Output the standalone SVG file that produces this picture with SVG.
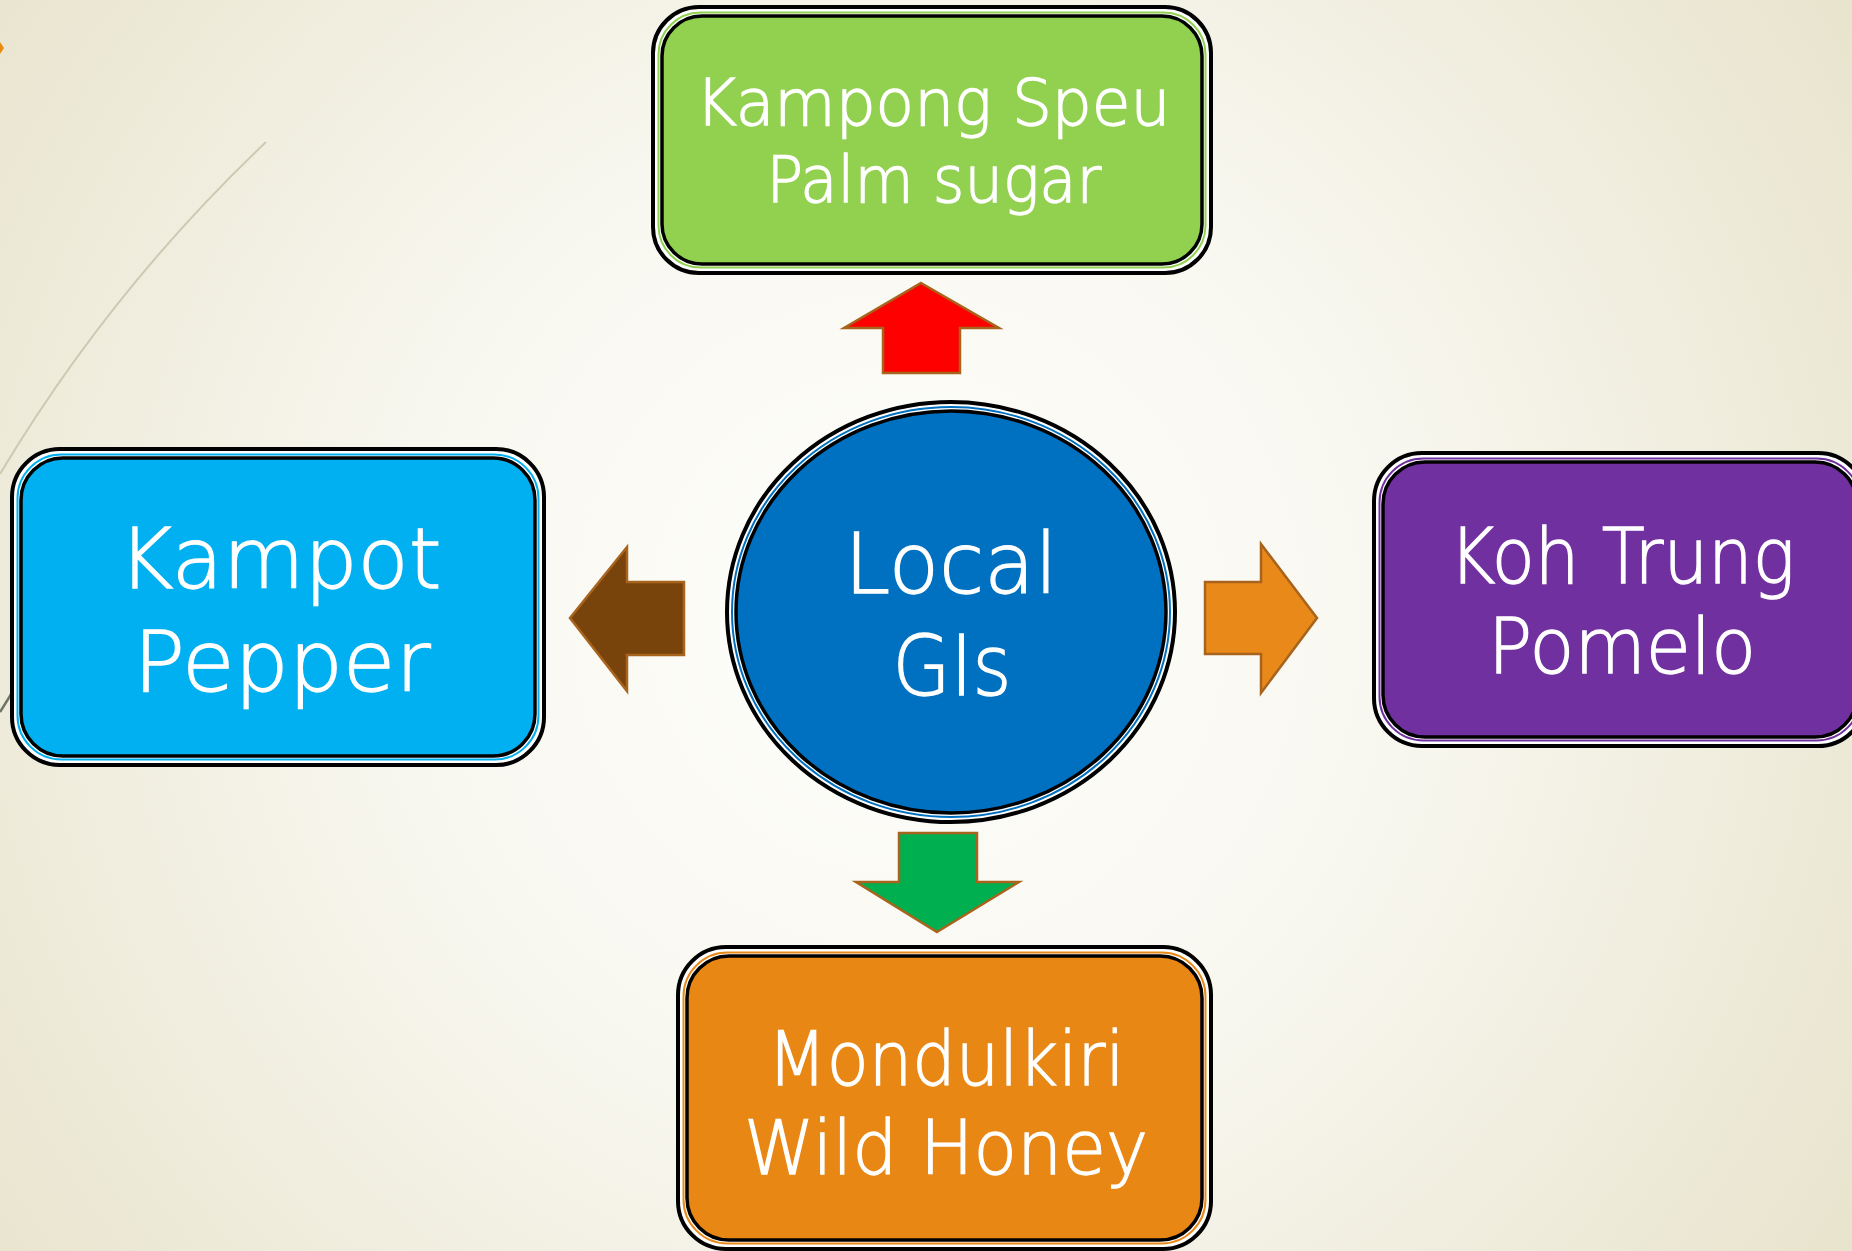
<svg xmlns="http://www.w3.org/2000/svg" width="1852" height="1251" viewBox="0 0 1852 1251">
<style>
.lbl{font-family:"DejaVu Sans","Liberation Sans",sans-serif;font-weight:300;fill:#ffffff;stroke:#ffffff;stroke-width:1.3;text-anchor:middle}
.outer{fill:#ffffff;stroke:#000000;stroke-width:4}
.inner{stroke:#000000;stroke-width:3.5}
.arrow{stroke:#a8631c;stroke-width:2.5;stroke-linejoin:miter}
</style>
<defs>
<radialGradient id="bg" cx="900" cy="620" r="1150" gradientUnits="userSpaceOnUse">
<stop offset="0" stop-color="#fefefc"/>
<stop offset="0.45" stop-color="#f8f7ef"/>
<stop offset="1" stop-color="#e7e3cc"/>
</radialGradient>
</defs>
<rect x="0" y="0" width="1852" height="1251" fill="url(#bg)"/>
<path d="M0,474 Q110,290 266,142" fill="none" stroke="#cbcbb4" stroke-width="2"/>
<path d="M0,712 L18,683" fill="none" stroke="#6e7465" stroke-width="2.5"/>
<polygon points="0,42 4,48 0,54" fill="#e88a13"/>

<g id="connectors">
<polygon class="arrow" fill="#ff0000" points="921,283 999,328 960,328 960,373 883,373 883,328 844,328"/>
<polygon class="arrow" fill="#78440b" points="570,618 627,547 627,582 684,582 684,655 627,655 627,691"/>
<polygon class="arrow" fill="#e8891a" points="1317,618 1261,544 1261,582 1205,582 1205,654 1261,654 1261,693"/>
<polygon class="arrow" fill="#00b050" points="937,932 1019,882 977,882 977,833 899,833 899,882 856,882"/>
</g>

<g id="node-palm-sugar">
<rect class="outer" x="653" y="7" width="558" height="266" rx="46"/>
<rect x="658.5" y="12.5" width="547" height="255" rx="42" fill="none" stroke="#92d050" stroke-width="2"/>
<rect class="inner" x="662" y="16" width="540" height="248" rx="40" fill="#92d050"/>
<text class="lbl" x="933" y="125" font-size="64" textLength="475" lengthAdjust="spacingAndGlyphs">Kampong Speu</text>
<text class="lbl" x="934" y="202" font-size="64" textLength="335" lengthAdjust="spacingAndGlyphs">Palm sugar</text>
</g>

<g id="node-local-gis">
<ellipse cx="951" cy="612" rx="224" ry="210" fill="#ffffff" stroke="#000000" stroke-width="4"/>
<ellipse cx="951" cy="612" rx="219" ry="205" fill="none" stroke="#0070c0" stroke-width="2"/>
<ellipse cx="951" cy="612" rx="215" ry="201" fill="#0070c0" stroke="#000000" stroke-width="3.5"/>
<text class="lbl" x="951" y="593" font-size="84" textLength="213" lengthAdjust="spacingAndGlyphs">Local</text>
<text class="lbl" x="952" y="695" font-size="84" textLength="119" lengthAdjust="spacingAndGlyphs">GIs</text>
</g>

<g id="node-kampot-pepper">
<rect class="outer" x="12" y="449" width="532" height="316" rx="48"/>
<rect x="17.5" y="454.5" width="521" height="305" rx="44" fill="none" stroke="#00b0f0" stroke-width="2"/>
<rect class="inner" x="21" y="458" width="514" height="298" rx="42" fill="#00b0f0"/>
<text class="lbl" x="280" y="588" font-size="84" textLength="323" lengthAdjust="spacingAndGlyphs">Kampot</text>
<text class="lbl" x="282" y="691" font-size="84" textLength="297" lengthAdjust="spacingAndGlyphs">Pepper</text>
</g>

<g id="node-koh-trung-pomelo">
<rect class="outer" x="1374" y="453" width="492" height="293" rx="48"/>
<rect x="1379.5" y="458.5" width="481" height="282" rx="44" fill="none" stroke="#7030a0" stroke-width="2"/>
<rect class="inner" x="1383" y="462" width="474" height="275" rx="42" fill="#7030a0"/>
<text class="lbl" x="1622" y="583" font-size="76" textLength="346" lengthAdjust="spacingAndGlyphs">Koh Trung</text>
<text class="lbl" x="1622" y="673" font-size="76" textLength="268" lengthAdjust="spacingAndGlyphs">Pomelo</text>
</g>

<g id="node-mondulkiri-wild-honey">
<rect class="outer" x="678" y="947" width="533" height="302" rx="48"/>
<rect x="683.5" y="952.5" width="522" height="291" rx="44" fill="none" stroke="#e8891a" stroke-width="2"/>
<rect class="inner" x="687" y="956" width="515" height="284" rx="42" fill="#e88713"/>
<text class="lbl" x="946" y="1085" font-size="75" textLength="357" lengthAdjust="spacingAndGlyphs">Mondulkiri</text>
<text class="lbl" x="946" y="1174" font-size="75" textLength="404" lengthAdjust="spacingAndGlyphs">Wild Honey</text>
</g>
</svg>
